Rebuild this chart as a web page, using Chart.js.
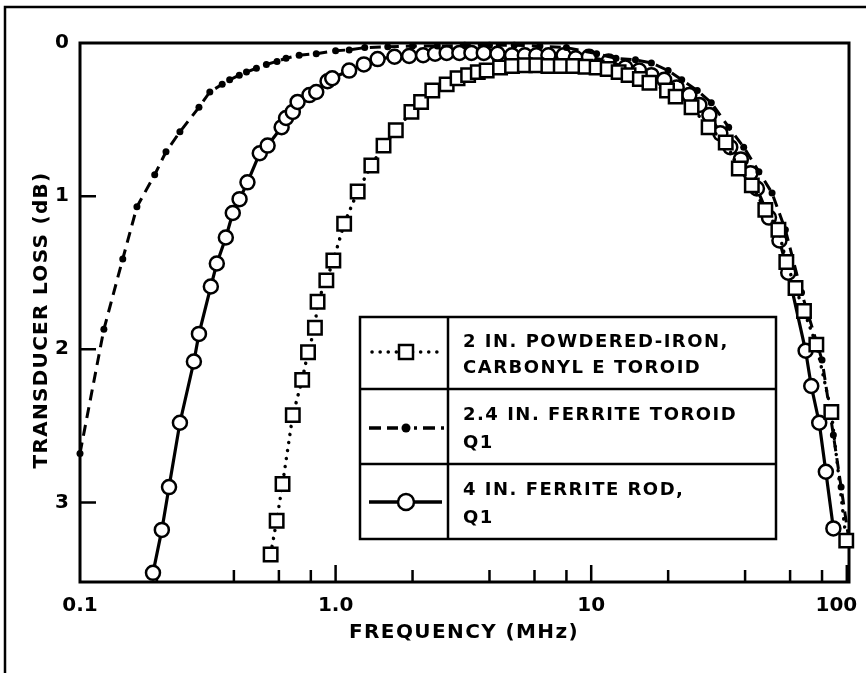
<!DOCTYPE html>
<html><head><meta charset="utf-8">
<script src="https://cdn.jsdelivr.net/npm/chart.js@4.4.1/dist/chart.umd.min.js"></script>
<style>html,body{margin:0;padding:0;background:#fff;}canvas{display:block;}</style>
</head><body>
<canvas id="c" width="866" height="673"></canvas>
<script>
// ---- data ----
const ironFreq = [0.557,0.588,0.62,0.68,0.74,0.78,0.83,0.85,0.92,0.98,1.08,1.22,1.38,1.54,1.72,1.98,2.16,2.39,2.72,3.0,3.3,3.6,3.9,4.4,4.9,5.5,6.1,6.8,7.6,8.5,9.5,10.5,11.6,12.8,14.0,15.5,16.9,19.8,21.4,24.7,28.8,33.6,37.8,42.5,48,54,58,63,68,76,87,99.5];
const ironLoss = [3.34,3.12,2.88,2.43,2.20,2.02,1.86,1.69,1.55,1.42,1.18,0.97,0.80,0.67,0.57,0.45,0.385,0.31,0.27,0.23,0.21,0.19,0.18,0.16,0.15,0.145,0.145,0.15,0.15,0.15,0.155,0.16,0.17,0.19,0.21,0.235,0.26,0.31,0.35,0.42,0.55,0.65,0.82,0.93,1.09,1.22,1.43,1.60,1.75,1.97,2.41,3.25];

const toroidFreq = [0.1,0.124,0.147,0.167,0.196,0.217,0.246,0.292,0.322,0.36,0.385,0.42,0.448,0.49,0.536,0.59,0.64,0.72,0.84,1.0,1.13,1.3,1.6,2.0,2.5,3.2,4,5,6.3,8,10.5,12.5,14.9,17.2,20,22.6,26,29.5,34.5,39.5,45.3,51,57.5,66.5,80,88.6,95,102];
const toroidLoss = [2.68,1.87,1.41,1.07,0.86,0.71,0.58,0.42,0.32,0.27,0.24,0.21,0.19,0.165,0.14,0.12,0.10,0.08,0.07,0.05,0.045,0.03,0.025,0.02,0.02,0.015,0.015,0.015,0.02,0.03,0.07,0.10,0.11,0.13,0.18,0.24,0.31,0.39,0.55,0.68,0.84,0.98,1.22,1.63,2.07,2.56,2.9,3.25];

const rodFreq = [0.193,0.209,0.223,0.246,0.279,0.292,0.325,0.343,0.372,0.396,0.421,0.452,0.505,0.542,0.615,0.64,0.68,0.71,0.79,0.84,0.93,0.97,1.13,1.29,1.46,1.7,1.94,2.2,2.45,2.72,3.05,3.4,3.8,4.3,4.9,5.5,6.1,6.8,7.8,8.7,9.8,11.7,13.6,15.4,17.2,19.3,21.6,24.2,26.5,29,32,35,38.5,42,44.5,49.6,54.5,59,69,72.6,78,82.8,88.6];
const rodLoss = [3.46,3.18,2.90,2.48,2.08,1.90,1.59,1.44,1.27,1.11,1.02,0.91,0.72,0.67,0.55,0.49,0.45,0.385,0.34,0.32,0.25,0.23,0.18,0.14,0.105,0.09,0.085,0.08,0.07,0.065,0.065,0.065,0.065,0.07,0.08,0.08,0.08,0.08,0.08,0.1,0.09,0.12,0.16,0.18,0.21,0.24,0.29,0.34,0.405,0.47,0.59,0.68,0.76,0.85,0.95,1.14,1.29,1.50,2.01,2.24,2.48,2.80,3.17];

const xTickValues = [0.1, 1, 10, 100];
const xTickLabels = ['0.1', '1.0', '10', '100\u00a0\u00a0\u00a0'];
const xMinorTicks = [0.2,0.4,0.6,0.8,2,4,6,8,20,40,60,80];
const yTickValues = [0, 1, 2, 3];
const yTickLabels = ['0', '1', '2', '3'];
const legendLabels = [
  ['2 IN. POWDERED-IRON,', 'CARBONYL E TOROID'],
  ['2.4 IN. FERRITE TOROID', 'Q1'],
  ['4 IN. FERRITE ROD,', 'Q1']
];
const xTitle = 'FREQUENCY (MHz)';
const yTitle = 'TRANSDUCER LOSS (dB)';

const pts = (xs, ys) => xs.map((x, i) => ({x: x, y: ys[i]}));
const FONT = '"DejaVu Sans", "Liberation Sans", sans-serif';

const decorPlugin = {
  id: 'decor',
  beforeDraw(chart) {
    const ctx = chart.ctx;
    ctx.save();
    ctx.fillStyle = '#fff';
    ctx.fillRect(0, 0, chart.width, chart.height);
    ctx.strokeStyle = '#000';
    ctx.lineWidth = 2.5;
    ctx.beginPath();
    ctx.moveTo(5, 673); ctx.lineTo(5, 7); ctx.lineTo(866, 7);
    ctx.stroke();
    ctx.restore();
  },
  beforeDatasetsDraw(chart) {
    const ctx = chart.ctx, a = chart.chartArea;
    const xs = chart.scales.x, ys = chart.scales.y;
    ctx.save();
    ctx.strokeStyle = '#000';
    ctx.lineWidth = 3;
    ctx.strokeRect(a.left, a.top, a.right - a.left, a.bottom - a.top);
    ctx.lineWidth = 2.5;
    ctx.beginPath();
    yTickValues.forEach(v => {
      if (v === 0) return;
      const y = ys.getPixelForValue(v);
      ctx.moveTo(a.left, y); ctx.lineTo(a.left + 16, y);
    });
    xTickValues.forEach(v => {
      const x = xs.getPixelForValue(v);
      if (x <= a.left + 2 || x >= a.right - 2) return;
      ctx.moveTo(x, a.bottom); ctx.lineTo(x, a.bottom - 17);
    });
    xMinorTicks.forEach(v => {
      const x = xs.getPixelForValue(v);
      ctx.moveTo(x, a.bottom); ctx.lineTo(x, a.bottom - 12);
    });
    ctx.stroke();
    ctx.restore();
  },
  afterDraw(chart) {
    const ctx = chart.ctx;
    ctx.save();
    ctx.fillStyle = '#000';
    ctx.textBaseline = 'middle';
    // axis titles
    ctx.font = 'bold 20px ' + FONT;
    ctx.letterSpacing = '1.4px';
    ctx.textAlign = 'center';
    ctx.fillText(xTitle, 464, 633);
    ctx.save();
    ctx.translate(42, 320);
    ctx.rotate(-Math.PI / 2);
    ctx.letterSpacing = '1.3px';
    ctx.fillText(yTitle, 0, 0);
    ctx.restore();

    // legend table
    const L = 360, R = 776, T = 317, B = 539, D = 448;
    const rows = [T, 389, 464, B];
    ctx.strokeStyle = '#000';
    ctx.lineWidth = 2.5;
    ctx.fillStyle = '#fff';
    ctx.fillRect(L, T, R - L, B - T);
    ctx.strokeRect(L, T, R - L, B - T);
    ctx.beginPath();
    ctx.moveTo(L, rows[1]); ctx.lineTo(R, rows[1]);
    ctx.moveTo(L, rows[2]); ctx.lineTo(R, rows[2]);
    ctx.moveTo(D, T); ctx.lineTo(D, B);
    ctx.stroke();

    const cx = 406;
    // row 1: dotted + square
    let y = 352;
    ctx.save();
    ctx.lineWidth = 3.5; ctx.lineCap = 'round'; ctx.setLineDash([0.1, 8]);
    ctx.beginPath(); ctx.moveTo(372, y); ctx.lineTo(442, y); ctx.stroke();
    ctx.restore();
    ctx.fillStyle = '#fff';
    ctx.fillRect(cx - 7, y - 7, 14, 14);
    ctx.lineWidth = 2.5;
    ctx.strokeRect(cx - 7, y - 7, 14, 14);
    // row 2: dashed + dot
    y = 428;
    ctx.save();
    ctx.lineWidth = 3.5; ctx.setLineDash([12, 6]);
    ctx.beginPath(); ctx.moveTo(369, y); ctx.lineTo(444, y); ctx.stroke();
    ctx.restore();
    ctx.fillStyle = '#fff';
    ctx.fillRect(cx - 8, y - 3, 16, 6);
    ctx.fillStyle = '#000';
    ctx.beginPath(); ctx.arc(cx, y, 4.5, 0, Math.PI * 2); ctx.fill();
    // row 3: solid + circle
    y = 502;
    ctx.lineWidth = 3.5;
    ctx.beginPath(); ctx.moveTo(369, y); ctx.lineTo(442, y); ctx.stroke();
    ctx.fillStyle = '#fff'; ctx.lineWidth = 2.5;
    ctx.beginPath(); ctx.arc(cx, y, 8, 0, Math.PI * 2); ctx.fill(); ctx.stroke();

    // legend text
    ctx.fillStyle = '#000';
    ctx.font = 'bold 18px ' + FONT;
    ctx.letterSpacing = '1.5px';
    ctx.textAlign = 'left';
    const lineY = [[342, 368], [415, 443], [490, 518]];
    legendLabels.forEach((lines, i) => {
      lines.forEach((t, j) => ctx.fillText(t, 463, lineY[i][j]));
    });
    ctx.restore();
  }
};

new Chart(document.getElementById('c'), {
  type: 'line',
  data: {
    datasets: [
      {
        label: legendLabels[0].join(' '),
        data: pts(ironFreq, ironLoss),
        borderColor: '#000', borderWidth: 3.5, borderDash: [0.1, 8], borderCapStyle: 'round',
        pointStyle: 'rect', pointRadius: 9.5, pointBackgroundColor: '#fff', pointBorderColor: '#000', pointBorderWidth: 2.5,
        tension: 0, clip: false
      },
      {
        label: legendLabels[1].join(' '),
        data: pts(toroidFreq, toroidLoss),
        borderColor: '#000', borderWidth: 3, borderDash: [11, 7],
        pointStyle: 'circle', pointRadius: 3.5, pointBackgroundColor: '#000', pointBorderColor: '#000', pointBorderWidth: 0,
        tension: 0, clip: false
      },
      {
        label: legendLabels[2].join(' '),
        data: pts(rodFreq, rodLoss),
        borderColor: '#000', borderWidth: 3.2,
        pointStyle: 'circle', pointRadius: 7, pointBackgroundColor: '#fff', pointBorderColor: '#000', pointBorderWidth: 2.5,
        tension: 0, clip: false
      }
    ]
  },
  options: {
    responsive: false,
    animation: false,
    devicePixelRatio: 1,
    layout: {padding: {left: 0, top: 43, right: 17, bottom: 0}},
    plugins: {legend: {display: false}, tooltip: {enabled: false}, title: {display: false}},
    scales: {
      x: {
        type: 'logarithmic', min: 0.1, max: 102,
        grid: {display: false, drawTicks: false},
        border: {display: false},
        afterBuildTicks: s => { s.ticks = xTickValues.map(v => ({value: v, major: true})); },
        afterFit: s => { s.height = 91; s.paddingLeft = 0; s.paddingRight = 0; },
        ticks: {
          autoSkip: false, maxRotation: 0, padding: 12, color: '#000',
          font: {family: FONT, size: 20, weight: 'bold'},
          callback: (v) => { const i = xTickValues.indexOf(v); return i >= 0 ? xTickLabels[i] : ''; }
        }
      },
      y: {
        type: 'linear', reverse: true, min: 0, max: 3.52,
        grid: {display: false, drawTicks: false},
        border: {display: false},
        afterBuildTicks: s => { s.ticks = yTickValues.map(v => ({value: v})); },
        afterFit: s => { s.width = 80; s.paddingTop = 0; s.paddingBottom = 0; },
        ticks: {
          autoSkip: false, padding: 11, color: '#000',
          font: {family: FONT, size: 20, weight: 'bold'},
          callback: (v) => { const i = yTickValues.indexOf(v); return i >= 0 ? yTickLabels[i] : ''; }
        }
      }
    }
  },
  plugins: [decorPlugin]
});
</script>
</body></html>
